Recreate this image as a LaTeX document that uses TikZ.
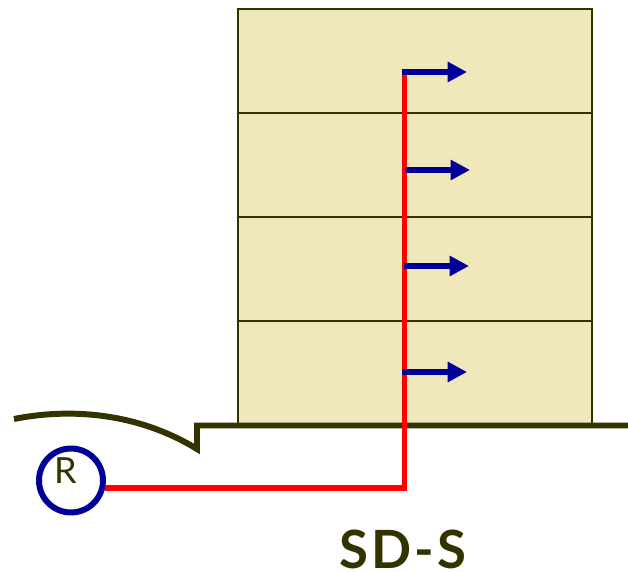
\documentclass[tikz,border=0pt]{standalone}
\usepackage{fontspec}
\setsansfont{Lato}
\newfontfamily\titlefont[LetterSpace=6]{Lato}
\definecolor{floorsand}{RGB}{240, 231, 186}
\definecolor{darkolive}{RGB}{51, 51, 0}
\definecolor{radarblue}{RGB}{0, 0, 153}
\definecolor{riserred}{RGB}{255, 0, 0}
\usetikzlibrary{arrows.meta, positioning}

\begin{document}
\begin{tikzpicture}[
  floorbox/.style={draw=darkolive, fill=floorsand, line width=1.5pt, minimum width=7.08cm, minimum height=2.08cm, inner sep=0pt, outer sep=0pt},
  floorarrow/.style={-{Triangle[length=11pt, width=11pt]}, draw=radarblue, line width=3.4pt}
]
  \useasboundingbox (0, 0) rectangle (12.56, 11.44);

  % Floors
  \node[floorbox] (floor1) at (8.3, 10.22) {};
  \node[floorbox, below=0pt of floor1] (floor2) {};
  \node[floorbox, below=0pt of floor2] (floor3) {};
  \node[floorbox, below=0pt of floor3] (floor4) {};

  % Ground
  \draw[darkolive, line width=3.4pt, line join=miter] (0.28, 3.06) .. controls (1.6, 3.32) and (2.9, 3.1) .. (3.94, 2.46)
    -- (3.94, 2.93) -- (12.56, 2.93);

  % Radar
  \node[draw=radarblue, line width=3.4pt, circle, minimum size=1.28cm, inner sep=0pt] (radar) at (1.42, 1.83) {};
  \node[text=darkolive, font=\sffamily\fontsize{20.5}{24}\selectfont, inner sep=0pt] (radarlabel) at (1.31, 2.02) {R};

  % Riser
  \coordinate (risertop) at (8.09, 10.06);
  \draw[riserred, line width=3.4pt] (radar.-13) -| (risertop);

  % Arrows
  \coordinate (start1) at (8.03, 10);
  \coordinate (end1) at (9.34, 10);
  \coordinate (start2) at (8.1, 8.04);
  \coordinate (end2) at (9.4, 8.04);
  \coordinate (start3) at (8.08, 6.12);
  \coordinate (end3) at (9.38, 6.12);
  \coordinate (start4) at (8.03, 4);
  \coordinate (end4) at (9.34, 4);
  \draw[floorarrow] (start1) -- (end1);
  \draw[floorarrow] (start2) -- (end2);
  \draw[floorarrow] (start3) -- (end3);
  \draw[floorarrow] (start4) -- (end4);

  % Title
  \node[text=darkolive, font=\titlefont\bfseries\fontsize{30}{36}\selectfont, inner sep=0pt] (title) at (8.06, 0.46) {SD-S};
\end{tikzpicture}
\end{document}
